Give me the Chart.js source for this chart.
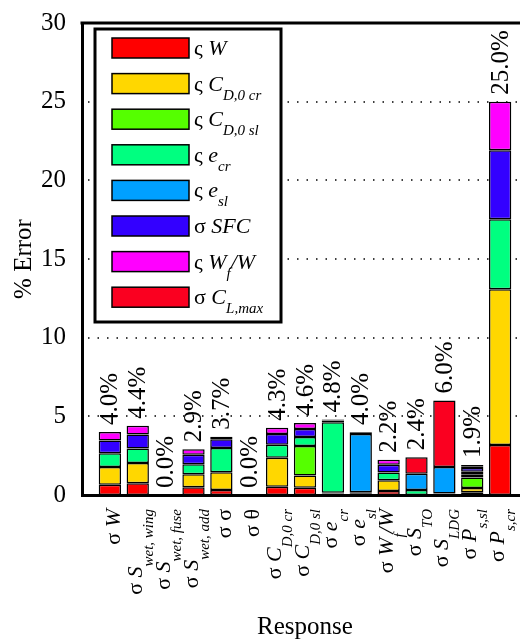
<!DOCTYPE html>
<html>
<head>
<meta charset="utf-8">
<script src="https://cdn.jsdelivr.net/npm/chart.js@4.4.1/dist/chart.umd.min.js"></script>
<style>
  html, body { margin:0; padding:0; overflow:hidden; background:#fff; }
  canvas { display:block; }
</style>
</head>
<body>
<canvas id="errChart" width="540" height="642"></canvas>
<script>
// responses on the x axis (rich text: r = roman, i = italic, s = italic subscript)
const responseLabels = [
  [['σ ','r'],['W','i']],
  [['σ ','r'],['S','i'],['wet, wing','s']],
  [['σ ','r'],['S','i'],['wet, fuse','s']],
  [['σ ','r'],['S','i'],['wet, add','s']],
  [['σ σ','r']],
  [['σ θ','r']],
  [['σ ','r'],['C','i'],['D,0 cr','s']],
  [['σ ','r'],['C','i'],['D,0 sl','s']],
  [['σ ','r'],['e','i'],['cr','s']],
  [['σ ','r'],['e','i'],['sl','s']],
  [['σ ','r'],['W','i'],['f','s'],['/W','i']],
  [['σ ','r'],['S','i'],['TO','s']],
  [['σ ','r'],['S','i'],['LDG','s']],
  [['σ ','r'],['P','i'],['s,sl','s']],
  [['σ ','r'],['P','i'],['s,cr','s']]
]
const totalLabels = ['4.0%','4.4%','0.0%','2.9%','3.7%','0.0%','4.3%','4.6%','4.8%','4.0%','2.2%','2.4%','6.0%','1.9%','25.0%']

// contributions (% error) of each input uncertainty
const errW     = [0.65,0.75,0,0.50,0.31,0,0.52,0.46,0.05,0.05,0.25,0,0,0.17,3.18]
const errCDcr  = [1.13,1.28,0,0.82,1.14,0,1.85,0.78,0.05,0.06,0.69,0,0,0.27,9.89]
const errCDsl  = [0,0,0,0,0,0,0,1.88,0.05,0.06,0,0,0,0.67,0]
const errEcr   = [0.88,0.92,0,0.63,1.53,0,0.82,0.57,4.48,0,0.49,0.32,0.10,0.18,4.45]
const errEsl   = [0,0,0,0,0,0,0,0,0,3.71,0,1.03,1.68,0.18,0]
const errSFC   = [0.80,0.90,0,0.61,0.56,0,0.69,0.50,0.10,0.08,0.50,0,0,0.25,4.40]
const errWfW   = [0.54,0.55,0,0.35,0.16,0,0.40,0.38,0.07,0.04,0.31,0,0,0.10,3.08]
const errCLmax = [0,0,0,0,0,0,0,0,0,0,0,1.05,4.22,0.08,0]

const seriesLabels = [
  [['ς ','r'],['W','i']],
  [['ς ','r'],['C','i'],['D,0 cr','s']],
  [['ς ','r'],['C','i'],['D,0 sl','s']],
  [['ς ','r'],['e','i'],['cr','s']],
  [['ς ','r'],['e','i'],['sl','s']],
  [['σ ','r'],['SFC','i']],
  [['ς ','r'],['W','i'],['f','s'],['/W','i']],
  [['σ ','r'],['C','i'],['L,max','s']]
]
const seriesData = [errW, errCDcr, errCDsl, errEcr, errEsl, errSFC, errWfW, errCLmax]
const seriesColors = ['#ff0000','#ffd700','#55ff00','#00ff80','#00a0ff','#3300ff','#ff00ff','#fa0020']

const FONT = '"Liberation Serif", "Times New Roman", serif'

// empty slot on both ends so bars sit on the whole-number positions 1..15 of 0..16
const labels = ['', ...responseLabels.map((_, i) => 'r' + i), '']
const datasets = seriesData.map((arr, k) => ({
  label: 's' + k,
  data: [null, ...arr.map(v => v === 0 ? null : v), null],
  backgroundColor: seriesColors[k],
  borderColor: '#000',
  borderWidth: 1.5,
  borderSkipped: false,
  categoryPercentage: 1,
  barPercentage: 0.8
}))

function setFont(ctx, style, main, sub){
  if(style === 's') ctx.font = 'italic ' + sub + 'px ' + FONT
  else if(style === 'i') ctx.font = 'italic ' + main + 'px ' + FONT
  else ctx.font = main + 'px ' + FONT
}
function richWidth(ctx, segs, main, sub){
  let w = 0
  segs.forEach(([t, s]) => { setFont(ctx, s, main, sub); w += ctx.measureText(t).width })
  return w
}
function drawRich(ctx, segs, x, y, main, sub, drop){
  let cx = x
  segs.forEach(([t, s]) => {
    setFont(ctx, s, main, sub)
    ctx.fillText(t, cx, s === 's' ? y + drop : y)
    cx += ctx.measureText(t).width
  })
}

const overlay = {
  id: 'overlay',
  beforeDatasetsDraw(chart){
    const {ctx, chartArea: a, scales: {y}} = chart
    ctx.save()
    ctx.strokeStyle = '#000'; ctx.lineWidth = 1.5; ctx.setLineDash([1.5, 8])
    y.ticks.forEach(t => {
      if(t.value <= 0 || t.value >= 30) return
      const py = Math.round(y.getPixelForValue(t.value))
      ctx.beginPath(); ctx.moveTo(a.left + 6, py); ctx.lineTo(a.right, py); ctx.stroke()
    })
    ctx.restore()
  },
  afterDraw(chart){
    const {ctx, chartArea: a, scales: {x, y}} = chart
    ctx.save()
    ctx.fillStyle = '#000'

    // frame top
    ctx.strokeStyle = '#000'; ctx.lineWidth = 3
    ctx.beginPath(); ctx.moveTo(a.left - 1.5, a.top); ctx.lineTo(a.right, a.top); ctx.lineTo(a.right, a.bottom); ctx.stroke()

    // totals above the bars
    ctx.font = '25px ' + FONT
    ctx.textAlign = 'left'; ctx.textBaseline = 'middle'
    totalLabels.forEach((txt, i) => {
      const total = seriesData.reduce((s, arr) => s + arr[i], 0)
      const px = x.getPixelForValue(i + 1)
      const py = y.getPixelForValue(total) - 7
      ctx.save(); ctx.translate(px + 1, py); ctx.rotate(-Math.PI / 2)
      ctx.fillText(txt, 0, 0); ctx.restore()
    })

    // rotated category labels
    ctx.textBaseline = 'alphabetic'
    const yTop = a.bottom + 14
    responseLabels.forEach((segs, i) => {
      const px = x.getPixelForValue(i + 1)
      const hasSub = segs.some(s => s[1] === 's')
      const w = richWidth(ctx, segs, 22, 15)
      ctx.save(); ctx.translate(px, yTop); ctx.rotate(-Math.PI / 2)
      drawRich(ctx, segs, -w, hasSub ? 4 : 10, 22, 15, 11)
      ctx.restore()
    })

    // legend
    const lx = 95, ly = 29, lw = 186, lh = 293
    ctx.fillStyle = '#fff'; ctx.fillRect(lx, ly, lw, lh)
    ctx.lineWidth = 3; ctx.strokeRect(lx, ly, lw, lh)
    seriesLabels.forEach((segs, k) => {
      const cy = 48 + k * 35.6
      ctx.fillStyle = seriesColors[k]; ctx.fillRect(112, cy - 10, 77, 20)
      ctx.lineWidth = 1.5; ctx.strokeRect(112, cy - 10, 77, 20)
      ctx.fillStyle = '#000'
      drawRich(ctx, segs, 194, cy + 7, 22, 15, 9)
    })
    ctx.restore()
  }
}

new Chart(document.getElementById('errChart'), {
  type: 'bar',
  data: { labels, datasets },
  options: {
    responsive: false,
    animation: false,
    layout: { padding: { top: 15, right: 12, left: 0, bottom: 0 } },
    plugins: { legend: { display: false }, tooltip: { enabled: false } },
    scales: {
      x: {
        stacked: true, offset: false,
        grid: { display: false },
        ticks: { display: false },
        border: { color: '#000', width: 3 },
        title: { display: true, text: 'Response', color: '#000', font: { family: FONT, size: 25 }, padding: { top: 0, bottom: 0 } },
        afterFit(s){ s.height = 147 }
      },
      y: {
        stacked: true, min: 0, max: 30,
        grid: { display: false },
        ticks: { stepSize: 5, color: '#000', padding: 8, font: { family: FONT, size: 25 } },
        border: { color: '#000', width: 3 },
        title: { display: true, text: '% Error', color: '#000', font: { family: FONT, size: 25 }, padding: { top: 9, bottom: 0 } },
        afterFit(s){ s.width = 82 }
      }
    }
  },
  plugins: [overlay]
})
</script>
</body>
</html>
